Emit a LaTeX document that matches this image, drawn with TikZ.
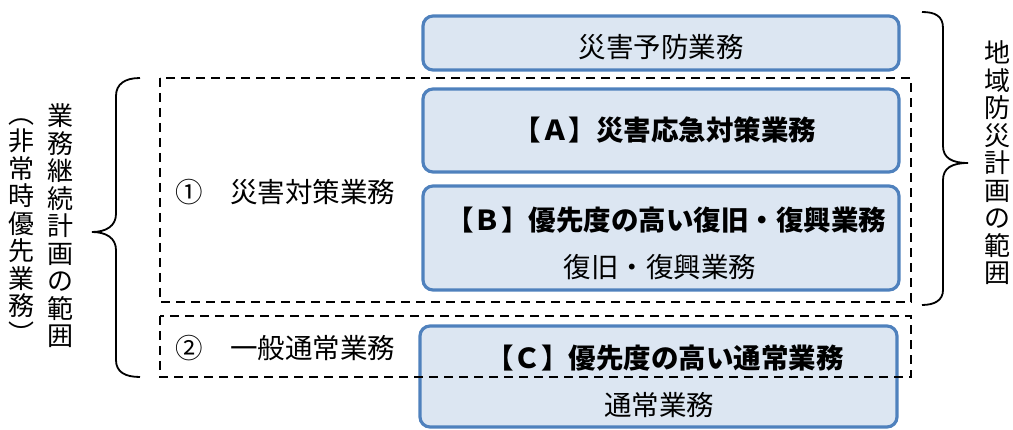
\documentclass[tikz,border=0pt]{standalone}
\usepackage{fontspec}
\newfontfamily\jp{Noto Sans CJK JP}
\definecolor{boxblue}{RGB}{79,129,189}
\definecolor{boxfill}{RGB}{220,230,242}
\begin{document}
\begin{tikzpicture}[x=1pt,y=-1pt,
  box/.style={draw=boxblue, line width=3.2pt, fill=boxfill, rounded corners=10pt, inner sep=0pt},
  dashbox/.style={draw=black, line width=2.3pt, dash pattern=on 9pt off 6pt},
  brace/.style={draw=black, line width=1.8pt},
  txt/.style={font=\jp\fontsize{27.5}{27.5}\selectfont, inner sep=0pt, text=black},
  btxt/.style={font=\jp\bfseries\fontsize{27.5}{27.5}\selectfont, inner sep=0pt, text=black},
  vtxt/.style={font=\jp\fontsize{26}{27.5}\selectfont, inner sep=0pt, text=black, align=center}]
\useasboundingbox (0,0) rectangle (1013,430);
% boxes
\node[box, minimum width=476pt, minimum height=54pt] (prev) at (661,43) {};
\node[box, minimum width=476pt, minimum height=83pt] (boxa) at (661,130.5) {};
\node[box, minimum width=476pt, minimum height=104pt] (boxb) at (661,238) {};
\node[box, minimum width=477pt, minimum height=101pt] (boxc) at (658.5,376.5) {};
% box texts
\node[txt] (prevt) at (661,47) {災害予防業務};
\node[btxt] (at) at (665,130) {【Ａ】災害応急対策業務};
\node[btxt] (bt) at (666,220) {【Ｂ】優先度の高い復旧・復興業務};
\node[txt] (bs) at (660,267) {復旧・復興業務};
\node[btxt] (ct) at (665,358) {【Ｃ】優先度の高い通常業務};
\node[txt] (cs) at (659,405) {通常業務};
% dashed areas
\draw[dashbox] (160,78) rectangle (911,302);
\draw[dashbox] (160,316) rectangle (911,377);
\node[txt, anchor=west] (one) at (175,192) {①　災害対策業務};
\node[txt, anchor=west] (two) at (175,348) {②　一般通常業務};
% left brace
\draw[brace] (140,78) .. controls (125,78) and (116,84) .. (116,96) -- (116,214)
  .. controls (116,226) and (106,232) .. (92,232)
  .. controls (106,232) and (116,238) .. (116,250) -- (116,360)
  .. controls (116,372) and (125,377) .. (140,377);
% right brace
\draw[brace] (922,12) .. controls (935,12) and (943,16) .. (943,28) -- (943,146)
  .. controls (943,158) and (952,163) .. (968,163)
  .. controls (952,163) and (943,168) .. (943,180) -- (943,290)
  .. controls (943,300) and (935,305) .. (922,305);
% vertical texts
\node[vtxt] (lv1) at (22,231) {︵\\非\\常\\時\\優\\先\\業\\務\\︶};
\node[vtxt] (lv2) at (60,226) {業\\務\\継\\続\\計\\画\\の\\範\\囲};
\node[vtxt] (rv) at (997,163) {地\\域\\防\\災\\計\\画\\の\\範\\囲};
\end{tikzpicture}
\end{document}
